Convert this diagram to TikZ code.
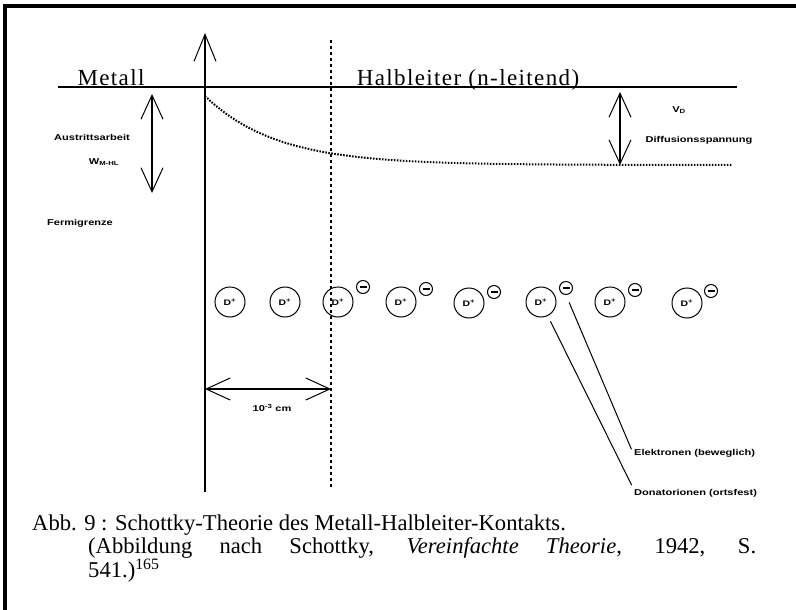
\documentclass[tikz,border=0pt]{standalone}
\usepackage{fontspec}
\setmainfont{Liberation Serif}
\newfontfamily\headfont[LetterSpace=6]{Liberation Serif}
\newfontfamily\smallfont[FakeStretch=1.3]{Liberation Sans}
\usetikzlibrary{positioning, arrows.meta, calc}

\begin{document}
\begin{tikzpicture}[
    x=1pt, y=-1pt,
    every node/.style={align=center},
    level/.style={line width=1.6pt},
    dimarrow/.style={{Straight Barb[length=24pt, width=22pt, line width=1pt]}-{Straight Barb[length=24pt, width=22pt, line width=1pt]}, line width=1.4pt},
    tinytext/.style={font=\smallfont\bfseries\fontsize{8.5}{10}\selectfont, inner sep=1pt},
    headtext/.style={font=\headfont\fontsize{23}{26}\selectfont, anchor=base, inner sep=0pt},
    ion/.style={draw, circle, line width=1pt, minimum size=30pt, inner sep=0pt, font=\smallfont\bfseries\fontsize{8}{9}\selectfont},
    electron/.style={draw, circle, line width=1pt, minimum size=13pt, inner sep=0pt},
    leader/.style={line width=1pt},
    captext/.style={anchor=base west, inner sep=0pt, font=\fontsize{22.6}{26}\selectfont},
]
\useasboundingbox (0,0) rectangle (796,610);
% Frame
\draw[line width=4pt] (5,610) -- (5,6) -- (796,6);
% Contact surface and boundaries
\coordinate (surfL) at (58,87);
\coordinate (surfR) at (737,87);
\coordinate (ifbot) at (205,492);
\coordinate (iftop) at (205,33);
\coordinate (edgetop) at (331,40);
\coordinate (edgebot) at (331,488);
\draw[level] (surfL) -- (surfR);
\draw[level, -{Straight Barb[length=27pt, width=22pt, line width=1pt]}] (ifbot) -- (iftop);
\draw[line width=1.5pt, dash pattern=on 3pt off 3pt] (edgetop) -- (edgebot);
\node[headtext] (metall) at (111,85) {Metall};
\node[headtext] (halbleiter) at (468,85) {Halbleiter (n-leitend)};
% Band edge
\draw[line width=2pt, dash pattern=on 1.6pt off 1.4pt] plot[domain=205:732, samples=100] (\x, {165-69*exp(-(\x-205)/71)});
% Work function and diffusion voltage
\coordinate (wtop) at (152,94);
\coordinate (wbot) at (152,193);
\coordinate (vtop) at (620,92);
\coordinate (vbot) at (620,165);
\draw[dimarrow] (wtop) -- (wbot);
\draw[dimarrow] (vtop) -- (vbot);
\node[tinytext] (austritt) at (92,137) {Austrittsarbeit};
\node[tinytext] (wmhl) at (104,162) {W\textsubscript{M-HL}};
\node[tinytext] (fermi) at (80,223) {Fermigrenze};
\node[tinytext] (vd) at (679,110) {V\textsubscript{D}};
\node[tinytext] (diffusion) at (699,140) {Diffusionsspannung};
% Ions and electrons
\node[ion] (ion1) at (230,302) {D\textsuperscript{+}};
\node[ion] (ion2) at (285,302) {D\textsuperscript{+}};
\node[ion] (ion3) at (338,302) {D\textsuperscript{+}};
\node[ion] (ion4) at (401,302) {D\textsuperscript{+}};
\node[ion] (ion5) at (469,303) {D\textsuperscript{+}};
\node[ion] (ion6) at (541,302) {D\textsuperscript{+}};
\node[ion] (ion7) at (610,302) {D\textsuperscript{+}};
\node[ion] (ion8) at (687,303) {D\textsuperscript{+}};
\node[electron] (e3) at ($(ion3)+(25,-15)$) {\rule{7pt}{1.2pt}};
\node[electron] (e4) at ($(ion4)+(25,-13)$) {\rule{7pt}{1.2pt}};
\node[electron] (e5) at ($(ion5)+(25,-11)$) {\rule{7pt}{1.2pt}};
\node[electron] (e6) at ($(ion6)+(25,-14)$) {\rule{7pt}{1.2pt}};
\node[electron] (e7) at ($(ion7)+(25,-12)$) {\rule{7pt}{1.2pt}};
\node[electron] (e8) at ($(ion8)+(24,-12)$) {\rule{7pt}{1.2pt}};
% Width of the space charge zone
\coordinate (wl) at (205,389);
\coordinate (wr) at (331,389);
\draw[dimarrow] (wl) -- (wr);
\node[tinytext] (zone) at (272,408) {10\textsuperscript{-3} cm};
% Legend
\node[tinytext, anchor=west] (elektronen) at (633,453) {Elektronen (beweglich)};
\node[tinytext, anchor=west] (donator) at (633,493) {Donatorionen (ortsfest)};
\draw[leader, shorten <=8pt, shorten >=4pt] (e6.south) -- (elektronen.west);
\draw[leader, shorten <=6pt, shorten >=3pt] (ion6.-64) -- (donator.north west);
% Caption
\node[captext] (cap1) at (32,530) {Abb. 9 : Schottky-Theorie des Metall-Halbleiter-Kontakts.};
\node[captext] (cap2) at (88,553) {\makebox[668pt][s]{(Abbildung nach Schottky, \textit{Vereinfachte Theorie}, 1942, S.}};
\node[captext] (cap3) at (88,577) {541.)\textsuperscript{165}};
\end{tikzpicture}
\end{document}
